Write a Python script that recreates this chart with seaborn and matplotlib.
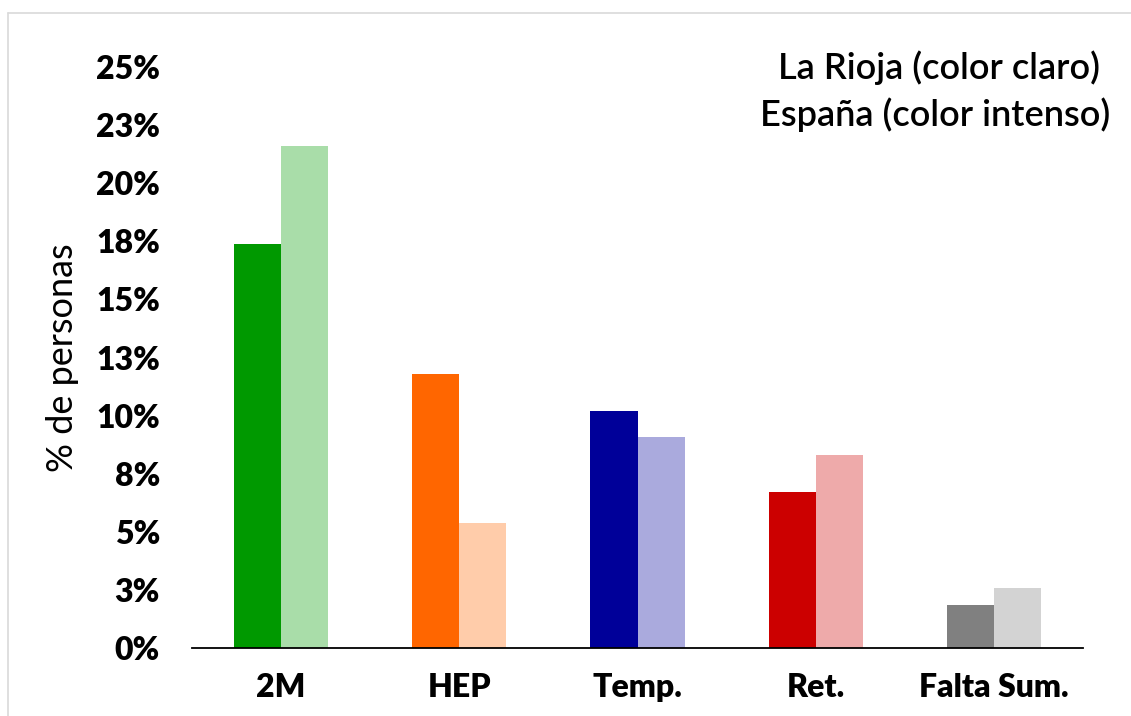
import pandas as pd
import matplotlib
matplotlib.use('Agg')
import matplotlib.pyplot as plt
import seaborn as sns
from matplotlib.lines import Line2D

# data (% of persons)
categorias = ['2M', 'HEP', 'Temp.', 'Ret.', 'Falta Sum.']
espana = [17.4, 11.8, 10.2, 6.7, 1.85]
la_rioja = [21.6, 5.4, 9.1, 8.3, 2.6]
ticks_y = [0, 2.5, 5, 7.5, 10, 12.5, 15, 17.5, 20, 22.5, 25]
ticks_y_labels = ['0%', '3%', '5%', '8%', '10%', '13%', '15%', '18%', '20%', '23%', '25%']

colores_intenso = ['#009900', '#FF6600', '#000099', '#CC0000', '#808080']
colores_claro = ['#A9DDA9', '#FFCCAA', '#AAAADD', '#EEAAAA', '#D3D3D3']

df = pd.DataFrame({
    'cat': categorias * 2,
    'region': ['España'] * len(categorias) + ['La Rioja'] * len(categorias),
    'valor': espana + la_rioja,
})

sns.set_style('white')
plt.rcParams['font.family'] = ['Lato', 'DejaVu Sans']

fig = plt.figure(figsize=(11.31, 7.16), dpi=100)
ax = fig.add_axes([192 / 1131, 1 - 648 / 716, 891 / 1131, 581 / 716])

sns.barplot(data=df, x='cat', y='valor', hue='region', order=categorias,
            hue_order=['España', 'La Rioja'], width=0.528, ax=ax,
            legend=False, saturation=1)

for container, cols in zip(ax.containers, [colores_intenso, colores_claro]):
    for bar, c in zip(container, cols):
        bar.set_facecolor(c)
        bar.set_edgecolor('none')

ax.set_xlim(-0.5, 4.5)
ax.set_ylim(0, 25)
ax.set_yticks(ticks_y)
ax.set_yticklabels(ticks_y_labels, fontsize=23, fontweight='heavy', color='black')
ax.set_xticks(range(len(categorias)))
ax.set_xticklabels(categorias, fontsize=23, fontweight='heavy', color='black')
ax.tick_params(axis='y', length=0, pad=23)
ax.tick_params(axis='x', length=0, pad=18)
ax.set_xlabel('')
ax.set_ylabel('% de personas', fontsize=26, labelpad=12, color='black')

for s in ['top', 'right', 'left']:
    ax.spines[s].set_visible(False)
ax.spines['bottom'].set_color('black')
ax.spines['bottom'].set_linewidth(1.3)

fig.text(1100 / 1131, 1 - 68 / 716, 'La Rioja (color claro)', ha='right',
         va='center', fontsize=26, color='black', fontweight='semibold')
fig.text(1110 / 1131, 1 - 115 / 716, 'España (color intenso)', ha='right',
         va='center', fontsize=26, color='black', fontweight='semibold')

# light frame
fig.add_artist(Line2D([8 / 1131, 8 / 1131], [0, 1 - 13 / 716],
                      transform=fig.transFigure, color='#D9D9D9', lw=1.2))
fig.add_artist(Line2D([8 / 1131, 1], [1 - 13 / 716, 1 - 13 / 716],
                      transform=fig.transFigure, color='#D9D9D9', lw=1.2))

fig.savefig('out.png', dpi=100)
